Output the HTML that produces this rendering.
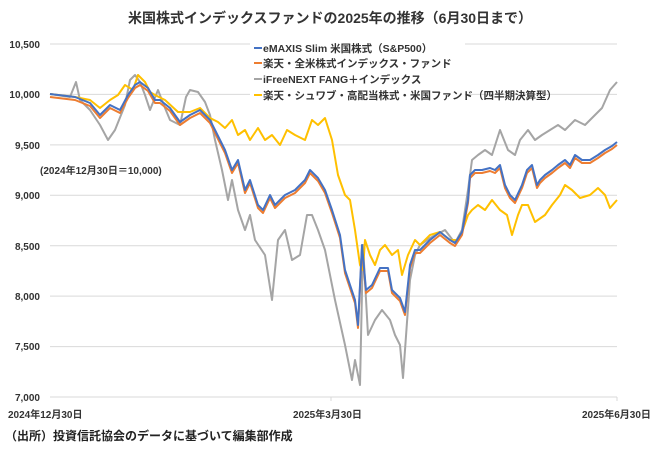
<!DOCTYPE html><html><head><meta charset="utf-8"><style>body{margin:0;background:#fff}svg{display:block;font-family:"Liberation Sans","Noto Sans CJK JP",sans-serif}</style></head><body>
<svg width="660" height="449" viewBox="0 0 660 449">
<rect width="660" height="449" fill="#fff"/>
<text x="330" y="23" text-anchor="middle" font-size="14" font-weight="bold" fill="#333">米国株式インデックスファンドの2025年の推移（6月30日まで）</text>
<g stroke="#d9d9d9" stroke-width="1">
<line x1="50" x2="617" y1="44" y2="44"/><line x1="50" x2="617" y1="94.4" y2="94.4"/><line x1="50" x2="617" y1="144.9" y2="144.9"/><line x1="50" x2="617" y1="195.3" y2="195.3"/><line x1="50" x2="617" y1="245.7" y2="245.7"/><line x1="50" x2="617" y1="296.1" y2="296.1"/><line x1="50" x2="617" y1="346.6" y2="346.6"/><line x1="50" x2="617" y1="397" y2="397"/>
<line x1="331" x2="331" y1="397" y2="401"/><line x1="617" x2="617" y1="397" y2="401"/>
</g>
<g font-size="10" font-weight="bold" fill="#333" text-anchor="end">
<text x="40" y="48">10,500</text><text x="40" y="98">10,000</text><text x="40" y="149">9,500</text><text x="40" y="199">9,000</text><text x="40" y="250">8,500</text><text x="40" y="300">8,000</text><text x="40" y="350">7,500</text><text x="40" y="401">7,000</text>
</g>
<g font-size="10" font-weight="bold" fill="#333">
<text x="8" y="418">2024年12月30日</text><text x="293" y="418">2025年3月30日</text><text x="582" y="418">2025年6月30日</text>
<text x="40" y="174">(2024年12月30日＝10,000)</text>
</g>
<text x="5" y="440" font-size="12" font-weight="bold" fill="#222">（出所）投資信託協会のデータに基づいて編集部作成</text>
<g fill="none" stroke-width="2" stroke-linejoin="round">
<polyline stroke="#a5a5a5" points="50,94 70,97 76,82 80,100 90,110 100,125 108,140 115,130 125,105 130,80 135,75 140,82 145,95 150,110 158,90 165,108 170,120 180,125 186,97 190,90 198,92 205,102 210,115 215,140 222,170 228,200 232,180 238,210 245,230 250,215 255,240 265,255 272,300 278,240 285,230 292,260 300,255 307,215 312,215 318,230 325,250 335,300 345,345 352,380 355,360 360,385 363,245 368,335 375,320 382,310 390,320 395,335 400,345 403,378 410,280 415,255 420,245 430,238 445,230 455,243 462,230 468,190 472,160 478,155 485,150 492,155 500,130 508,150 515,155 520,140 528,130 535,140 542,135 550,130 558,125 565,130 575,120 585,125 595,115 602,108 610,90 617,82"/>
<polyline stroke="#ffc000" points="50,94 75,97 90,100 100,108 110,100 118,95 125,85 133,90 138,75 145,82 150,92 155,95 165,100 178,112 190,112 200,108 210,118 218,122 225,128 232,120 238,135 245,130 250,140 258,128 265,140 272,135 280,145 287,130 295,135 305,140 312,120 318,125 325,118 332,140 338,175 345,195 350,200 355,230 360,265 363,270 365,240 370,255 375,265 380,250 385,245 392,255 398,250 402,275 408,255 415,240 420,245 430,235 440,232 450,240 457,240 462,232 468,215 472,210 478,205 485,210 492,200 500,210 507,215 512,235 518,215 522,205 528,205 535,222 545,215 552,205 560,195 565,185 572,190 580,198 590,195 598,188 605,195 610,208 617,200"/>
<polyline stroke="#ed7d31" transform="translate(0,3)" points="50,94 75,97 90,103 100,115 110,105 120,110 128,95 135,85 140,82 148,88 155,100 160,100 170,108 180,122 190,115 200,110 210,120 215,130 225,150 232,170 238,160 245,190 250,180 258,205 263,210 270,195 275,205 285,195 295,190 305,180 310,170 318,178 325,190 332,210 340,235 345,270 355,300 358,325 362,245 366,290 372,285 380,268 388,268 392,290 400,298 405,312 410,265 415,250 420,250 430,240 440,232 450,240 455,243 462,232 468,200 470,175 475,170 482,170 490,168 495,170 500,165 505,185 510,195 515,200 522,185 527,170 532,165 537,185 540,180 545,175 552,170 558,165 565,160 570,165 575,155 582,160 590,160 598,155 605,150 612,146 617,142"/>
<polyline stroke="#4472c4" points="50,94 75,97 90,103 100,115 110,105 120,110 128,95 135,85 140,82 148,88 155,100 160,100 170,108 180,122 190,115 200,110 210,120 215,130 225,150 232,170 238,160 245,190 250,180 258,205 263,210 270,195 275,205 285,195 295,190 305,180 310,170 318,178 325,190 332,210 340,235 345,270 355,300 358,325 362,245 366,290 372,285 380,268 388,268 392,290 400,298 405,312 410,265 415,250 420,250 430,240 440,232 450,240 455,243 462,232 468,200 470,175 475,170 482,170 490,168 495,170 500,165 505,185 510,195 515,200 522,185 527,170 532,165 537,185 540,180 545,175 552,170 558,165 565,160 570,165 575,155 582,160 590,160 598,155 605,150 612,146 617,142"/>
</g>
<rect x="250" y="40" width="215" height="62" fill="#fff"/>
<g stroke-width="2"><line x1="254" x2="262" y1="48" y2="48" stroke="#4472c4"/><line x1="254" x2="262" y1="63" y2="63" stroke="#ed7d31"/><line x1="254" x2="262" y1="79" y2="79" stroke="#a5a5a5"/><line x1="254" x2="262" y1="95" y2="95" stroke="#ffc000"/></g>
<g font-size="10.5" font-weight="bold" fill="#333">
<text x="263" y="52">eMAXIS Slim 米国株式（S&amp;P500）</text>
<text x="263" y="67">楽天・全米株式インデックス・ファンド</text>
<text x="263" y="83">iFreeNEXT FANG＋インデックス</text>
<text x="263" y="99">楽天・シュワブ・高配当株式・米国ファンド（四半期決算型）</text>
</g>
</svg></body></html>
